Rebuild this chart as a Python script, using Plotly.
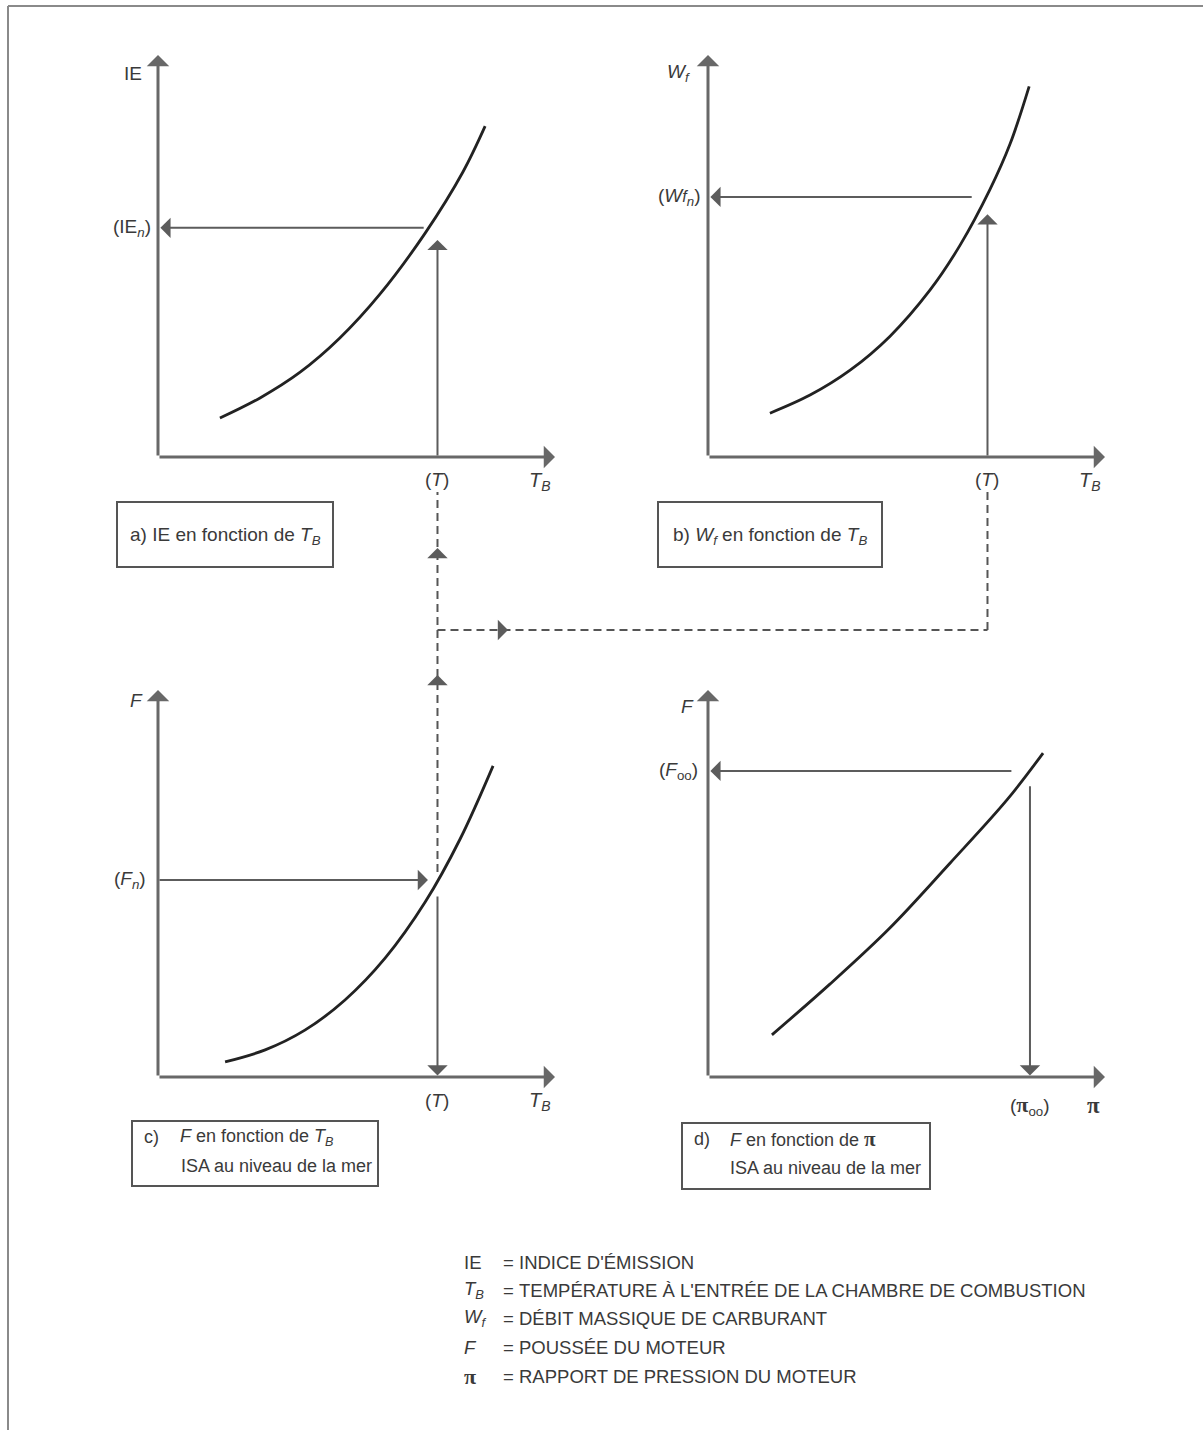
import plotly.graph_objects as go

W, H = 1203, 1430

# ---- curve data (normalised 0-100 units on each pair of axes) ----
# a) emission index vs combustor inlet temperature
a_tb = [15.6, 25.7, 35.8, 45.8, 55.9, 67.3, 76.8, 82.4]
a_ie = [9.7, 14.7, 21.1, 29.6, 40.5, 55.7, 70.9, 82.3]
# b) fuel flow vs combustor inlet temperature
b_tb = [15.6, 25.7, 35.8, 45.8, 55.9, 63.5, 71.0, 76.1, 80.9]
b_wf = [10.9, 15.4, 21.6, 30.0, 41.5, 52.7, 66.5, 77.9, 92.2]
# c) thrust vs combustor inlet temperature
c_tb = [16.9, 27.0, 37.0, 47.1, 57.2, 67.3, 76.1, 84.4]
c_f = [3.9, 7.0, 12.1, 19.9, 30.7, 45.2, 61.5, 80.4]
# d) thrust vs engine pressure ratio
d_pi = [16.1, 30.7, 45.8, 61.0, 75.3, 84.4]
d_f = [10.9, 24.0, 38.5, 55.3, 71.6, 83.7]

# ---- operating points ----
T_op = 70.4      # (T)
IE_n = 57.0      # (IE_n)
WF_n = 64.7      # (Wf_n)
F_n = 50.9       # (F_n)
F_oo = 79.1      # (F_oo)
PI_oo = 81.1     # (pi_oo)

# ---- legend entries ----
legend_sym = ["IE", "<i>T</i><sub><i>B</i></sub>", "<i>W</i><sub><i>f</i></sub>", "<i>F</i>", "π"]
legend_txt = ["INDICE D'ÉMISSION",
              "TEMPÉRATURE À L'ENTRÉE DE LA CHAMBRE DE COMBUSTION",
              "DÉBIT MASSIQUE DE CARBURANT",
              "POUSSÉE DU MOTEUR",
              "RAPPORT DE PRESSION DU MOTEUR"]

FONT = "Liberation Sans, Arial, sans-serif"
TXT = "#3a3a3a"
AXC = "#686868"
ARC = "#5c5c5c"
CURVE = "#222222"
FS = 19


def px(x, y):
    """pixel position -> paper coordinates"""
    return x / W, 1 - y / H


# panel boxes in pixels: (origin x, x-arrow tip, y-arrow tip, origin y)
boxes = {
    "": (158, 555, 55, 457),
    "2": (708, 1105, 55, 457),
    "3": (158, 555, 690, 1077),
    "4": (708, 1105, 690, 1077),
}

fig = go.Figure()
layout_axes = {}
for k, (x0, x1, yt, yb) in boxes.items():
    ax_common = dict(range=[0, 100], visible=False, fixedrange=True)
    layout_axes["xaxis" + k] = dict(domain=[x0 / W, x1 / W], anchor="y" + k, **ax_common)
    layout_axes["yaxis" + k] = dict(domain=[1 - yb / H, 1 - yt / H], anchor="x" + k, **ax_common)


def to_paper(k, xv, yv):
    x0, x1, yt, yb = boxes[k]
    return (x0 + (x1 - x0) * xv / 100) / W, 1 - (yb - (yb - yt) * yv / 100) / H


for k, xs, ys in [("", a_tb, a_ie), ("2", b_tb, b_wf), ("3", c_tb, c_f), ("4", d_pi, d_f)]:
    fig.add_trace(go.Scatter(
        x=xs, y=ys, mode="lines", line=dict(color=CURVE, width=2.8, shape="spline", smoothing=1.0),
        xaxis="x" + k, yaxis="y" + k, hoverinfo="skip", showlegend=False, cliponaxis=False))

ann = []


def arrow(k, tail, head, width=2, size=1.7, color=ARC):
    ann.append(dict(x=head[0], y=head[1], ax=tail[0], ay=tail[1],
                    xref="x" + k, yref="y" + k, axref="x" + k, ayref="y" + k,
                    text="", showarrow=True, arrowhead=1, arrowsize=size,
                    arrowwidth=width, arrowcolor=color, standoff=0))


# axes with arrow tips
for k in boxes:
    arrow(k, (0, 0), (100, 0), width=3, size=1.25, color=AXC)
    arrow(k, (0, 0), (0, 100), width=3, size=1.25, color=AXC)

# a) reading IE_n at T
arrow("", (67.3, IE_n), (0.6, IE_n))
arrow("", (T_op, 0), (T_op, 54.0))
# b) reading Wf_n at T
arrow("2", (66.8, WF_n), (0.6, WF_n))
arrow("2", (T_op, 0), (T_op, 60.4))
# c) from F_n to T
arrow("3", (0, F_n), (68.0, F_n))
arrow("3", (T_op, 47.0), (T_op, 0.4))
# d) F_oo and pi_oo
arrow("4", (76.8, F_oo), (0.6, F_oo))
arrow("4", (PI_oo, 75.5), (PI_oo, 0.4))


def label(text, x, y, xanchor="center", yanchor="middle", size=FS, xref="paper", yref="paper",
          xshift=0, yshift=0, family=FONT):
    ann.append(dict(text=text, x=x, y=y, xref=xref, yref=yref, xanchor=xanchor, yanchor=yanchor,
                    showarrow=False, xshift=xshift, yshift=yshift,
                    font=dict(family=family, size=size, color=TXT)))


def pi_sym(px_size):
    return ("<span style='font-family:Liberation Serif,serif;font-size:%dpx'><b>π</b></span>"
            % px_size)


# axis titles
label("IE", *px(133, 74))
label("<i>W</i><sub><i>f</i></sub>", *px(678, 73))
label("<i>F</i>", *px(136, 701))
label("<i>F</i>", *px(687, 706))
for k, (x0, x1, yt, yb) in boxes.items():
    if k != "4":
        label("<i>T</i><sub><i>B</i></sub>", *px(x1 - 15, yb + 24), size=20)
label(pi_sym(23), *px(1093, 1105), size=20)

# operating-point tick labels
for k in ["", "2", "3"]:
    label("(<i>T</i>)", T_op, 0, xref="x" + k, yref="y" + k, yshift=-23)
label("(" + pi_sym(22) + "<sub>oo</sub>)", PI_oo, 0, xref="x4", yref="y4", yshift=-28)
label("(IE<sub><i>n</i></sub>)", 0, IE_n, xref="x", yref="y", xanchor="right", xshift=-5)
label("(<i>W</i><span style='font-size:16px'><i>f</i></span><sub><i>n</i></sub>)", 0, WF_n,
      xref="x2", yref="y2", xanchor="right", xshift=-6)
label("(<i>F</i><sub><i>n</i></sub>)", 0, F_n, xref="x3", yref="y3", xanchor="right", xshift=-10)
label("(<i>F</i><sub>oo</sub>)", 0, F_oo, xref="x4", yref="y4", xanchor="right", xshift=-8)

shapes = []

# caption boxes
for (l, t, r, b) in [(117, 502, 333, 567), (658, 502, 882, 567), (132, 1121, 378, 1186), (682, 1123, 930, 1189)]:
    x0, y0 = px(l, b)
    x1, y1 = px(r, t)
    shapes.append(dict(type="rect", xref="paper", yref="paper", x0=x0, x1=x1, y0=y0, y1=y1,
                       line=dict(color="#555555", width=2), fillcolor="rgba(0,0,0,0)"))

label("a) IE en fonction de <i>T</i><sub><i>B</i></sub>", *px(225, 536), size=19)
label("b) <i>W</i><sub><i>f</i></sub> en fonction de <i>T</i><sub><i>B</i></sub>", *px(770, 536), size=19)
label("c)", *px(142, 1137), xanchor="left", size=18)
label("<i>F</i> en fonction de <i>T</i><sub><i>B</i></sub>", *px(178, 1137), xanchor="left", size=18)
label("ISA au niveau de la mer", *px(179, 1166), xanchor="left", size=18)
label("d)", *px(692, 1139), xanchor="left", size=18)
label("<i>F</i> en fonction de " + pi_sym(21), *px(728, 1139), xanchor="left", size=18)
label("ISA au niveau de la mer", *px(728, 1168), xanchor="left", size=18)

# dashed link lines between the panels
DASH = dict(color="#555555", width=2, dash="8px,5px")
xc, yc_start = to_paper("3", T_op, 53)
xb, _ = to_paper("2", T_op, 0)
_, y_top = px(0, 492)
_, y_mid = px(0, 630)
shapes.append(dict(type="line", xref="paper", yref="paper", x0=xc, x1=xc, y0=yc_start, y1=y_top, line=DASH))
shapes.append(dict(type="line", xref="paper", yref="paper", x0=xc, x1=xb, y0=y_mid, y1=y_mid, line=DASH))
shapes.append(dict(type="line", xref="paper", yref="paper", x0=xb, x1=xb, y0=y_mid, y1=y_top, line=DASH))

for py in (548, 675):
    ann.append(dict(x=xc, y=px(0, py)[1], xref="paper", yref="paper", ax=0, ay=10, text="",
                    showarrow=True, arrowhead=1, arrowsize=1.7, arrowwidth=2, arrowcolor=ARC, standoff=0))
ann.append(dict(x=px(508, 0)[0], y=y_mid, xref="paper", yref="paper", ax=-10, ay=0, text="",
                showarrow=True, arrowhead=1, arrowsize=1.7, arrowwidth=2, arrowcolor=ARC, standoff=0))

# symbol legend
rows_y = [1262, 1290, 1318, 1347, 1376]
for sym, txt, ry in zip(legend_sym, legend_txt, rows_y):
    if sym == "π":
        label(pi_sym(22), *px(462, ry), xanchor="left", size=18.5)
    else:
        label(sym, *px(462, ry), xanchor="left", size=18.5)
    label("=", *px(501, ry), xanchor="left", size=18.5)
    label(txt, *px(517, ry), xanchor="left", size=18.5)

# outer frame
for (xa, ya, xb2, yb2) in [(8, 6, 1203, 6), (8, 6, 8, 1430)]:
    p0 = px(xa, ya)
    p1 = px(xb2, yb2)
    shapes.append(dict(type="line", xref="paper", yref="paper", x0=p0[0], y0=p0[1], x1=p1[0], y1=p1[1],
                       line=dict(color="#8a8a8a", width=2)))

fig.update_layout(
    width=W, height=H, margin=dict(l=0, r=0, t=0, b=0),
    paper_bgcolor="white", plot_bgcolor="white",
    showlegend=False, annotations=ann, shapes=shapes,
    font=dict(family=FONT, size=FS, color=TXT),
    **layout_axes,
)

fig.write_html("out.html", config={"displayModeBar": False})
